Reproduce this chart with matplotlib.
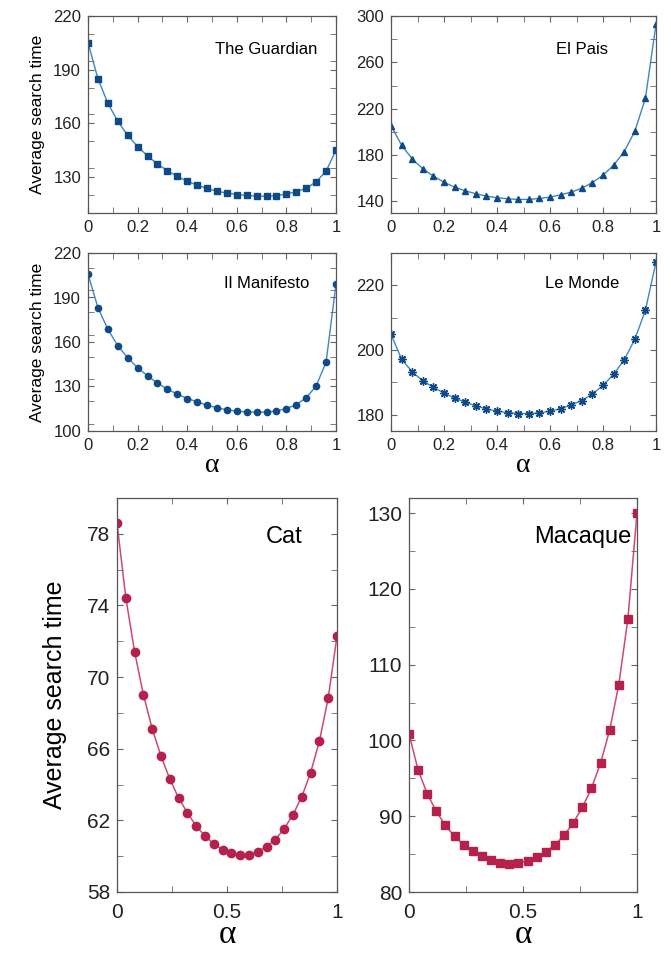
import numpy as np
import matplotlib.pyplot as plt
from matplotlib.ticker import MultipleLocator

plt.rcParams['font.family'] = ['Liberation Sans', 'DejaVu Sans']

# alpha values for all curves
alpha = [0.00, 0.04, 0.08, 0.12, 0.16, 0.20, 0.24, 0.28, 0.32, 0.36, 0.40, 0.44, 0.48,
         0.52, 0.56, 0.60, 0.64, 0.68, 0.72, 0.76, 0.80, 0.84, 0.88, 0.92, 0.96, 1.00]

guardian = [205.1, 185.0, 171.3, 161.2, 153.4, 147.1, 141.9, 137.3, 133.7, 130.4, 127.8, 125.5, 123.7,
            122.2, 121.1, 120.3, 119.8, 119.4, 119.4, 119.6, 120.7, 121.8, 123.9, 127.4, 133.3, 145.2]
el_pais = [205.4, 188.5, 176.7, 168.1, 161.8, 156.6, 152.3, 149.2, 146.6, 144.6, 143.2, 142.3, 141.7,
           141.7, 142.6, 143.7, 145.7, 148.0, 151.4, 156.3, 162.6, 171.2, 183.0, 200.5, 228.9, 292.8]
manifesto = [205.8, 183.2, 168.6, 157.5, 149.4, 142.6, 137.2, 132.3, 128.2, 124.9, 121.9, 119.7, 117.4,
             115.6, 114.3, 113.3, 112.9, 112.7, 112.7, 113.5, 115.1, 117.8, 122.4, 130.4, 146.4, 199.0]
le_monde = [204.9, 197.2, 193.3, 190.5, 188.5, 186.7, 185.2, 183.9, 182.8, 181.8, 181.1, 180.7, 180.4,
            180.4, 180.6, 181.1, 181.9, 183.1, 184.4, 186.4, 189.1, 192.5, 197.0, 203.3, 212.3, 227.2]
cat = [78.60, 74.44, 71.41, 69.02, 67.12, 65.59, 64.31, 63.25, 62.42, 61.69, 61.12, 60.69, 60.37,
       60.17, 60.06, 60.08, 60.26, 60.54, 60.93, 61.54, 62.32, 63.32, 64.66, 66.42, 68.83, 72.29]
macaque = [100.87, 96.10, 92.96, 90.63, 88.79, 87.34, 86.20, 85.36, 84.70, 84.17, 83.87, 83.74, 83.82,
           84.13, 84.57, 85.27, 86.24, 87.47, 89.10, 91.16, 93.66, 97.00, 101.35, 107.33, 116.03, 130.00]

top_xticks = [0, 0.2, 0.4, 0.6, 0.8, 1.0]
top_xlabels = ['0', '0.2', '0.4', '0.6', '0.8', '1']
bottom_xticks = [0, 0.5, 1.0]
bottom_xlabels = ['0', '0.5', '1']

blue_line = '#3d86c6'
blue_mark = '#0e4a85'
red_line = '#cc4a70'
red_mark = '#b5204c'

W, H = 671, 955
fig = plt.figure(figsize=(W / 100, H / 100), dpi=100)


def make_ax(x0, y0, x1, y1):
    # pixel box (left, top, right, bottom) -> figure fraction
    return fig.add_axes([x0 / W, 1 - y1 / H, (x1 - x0) / W, (y1 - y0) / H])


def style(ax, fs):
    for s in ax.spines.values():
        s.set_color('#555555')
        s.set_linewidth(0.9)
    ax.tick_params(which='both', direction='in', top=True, right=True,
                   color='#666666', labelsize=fs, labelcolor='#222222', pad=5)
    ax.tick_params(which='both', length=4)


top_panels = [
    (guardian, 's', 4.2, 'The Guardian', (110, 220), [130, 160, 190, 220], 15, (88, 16, 336, 213), True, False),
    (el_pais, '^', 4.5, 'El Pais', (130, 300), [140, 180, 220, 260, 300], 20, (391, 16, 656, 213), False, False),
    (manifesto, 'o', 4.5, 'Il Manifesto', (100, 220), [100, 130, 160, 190, 220], 15, (88, 253, 336, 431), True, True),
    (le_monde, (8, 2, 0), 6, 'Le Monde', (175, 230), [180, 200, 220], 10, (391, 253, 656, 431), False, True),
]

for vals, mk, ms, name, ylim, yt, yminor, box, ylab, xlab in top_panels:
    ax = make_ax(*box)
    ax.plot(alpha, vals, color=blue_line, lw=1.0, zorder=1)
    ax.plot(alpha, vals, ls='none', marker=mk, ms=ms, color=blue_mark,
            mec=blue_mark, mew=1.0, zorder=2)
    ax.set_xlim(0, 1)
    ax.set_ylim(*ylim)
    ax.set_xticks(top_xticks, top_xlabels)
    ax.xaxis.set_minor_locator(MultipleLocator(0.1))
    ax.set_yticks(yt, [str(v) for v in yt])
    ax.yaxis.set_minor_locator(MultipleLocator(yminor))
    style(ax, 12)
    ax.text(0.72, 0.83, name, transform=ax.transAxes, ha='center', va='center', fontsize=12)
    if ylab:
        ax.set_ylabel('Average search time', fontsize=12.5, labelpad=6)
    if xlab:
        ax.set_xlabel('α', family='Liberation Serif', fontsize=20, labelpad=0)

bottom_panels = [
    (cat, 'o', 6, 'Cat', (58, 80), [58, 62, 66, 70, 74, 78], 2, (117, 498, 337, 892), True),
    (macaque, 's', 6, 'Macaque', (80, 132), [80, 90, 100, 110, 120, 130], 5, (409, 498, 637, 892), False),
]

for vals, mk, ms, name, ylim, yt, yminor, box, ylab in bottom_panels:
    ax = make_ax(*box)
    ax.plot(alpha, vals, color=red_line, lw=1.1, zorder=1)
    ax.plot(alpha, vals, ls='none', marker=mk, ms=ms, color=red_mark,
            mec=red_mark, zorder=2)
    ax.set_xlim(0, 1)
    ax.set_ylim(*ylim)
    ax.set_xticks(bottom_xticks, bottom_xlabels)
    ax.xaxis.set_minor_locator(MultipleLocator(0.25))
    ax.set_yticks(yt, [str(v) for v in yt])
    ax.yaxis.set_minor_locator(MultipleLocator(yminor))
    style(ax, 15)
    ax.tick_params(axis='x', pad=8)
    ax.text(0.76, 0.90, name, transform=ax.transAxes, ha='center', va='center', fontsize=17)
    if ylab:
        ax.set_ylabel('Average search time', fontsize=18, labelpad=14)
    ax.set_xlabel('α', family='Liberation Serif', fontsize=24, labelpad=-2)

fig.savefig('out.png', dpi=100)
